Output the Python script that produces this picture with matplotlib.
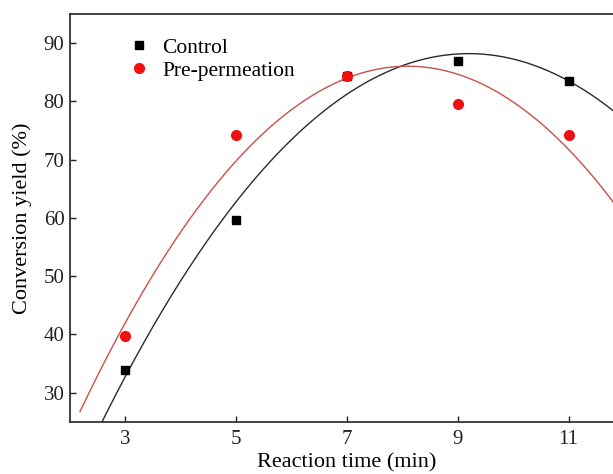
import numpy as np
import matplotlib
matplotlib.use('Agg')
import matplotlib.pyplot as plt

# data
time_min = [3, 5, 7, 9, 11]
control = [33.8, 59.7, 84.4, 87.0, 83.55]
pre_perm = [39.7, 74.3, 84.4, 79.6, 74.2]
xticks = [3, 5, 7, 9, 11]
yticks = [30, 40, 50, 60, 70, 80, 90]

plt.rcParams['font.family'] = ['Liberation Serif', 'DejaVu Serif']
plt.rcParams['font.size'] = 15

fig = plt.figure(figsize=(6.13, 4.74), dpi=100)
# axes runs past the right edge of the picture, like the cropped original
ax = fig.add_axes([70/613, (474-421.7)/474, 554/613, (421.7-14)/474])

# quadratic fits drawn through the points
xs = np.linspace(2.18, 12, 300)
fit_c = np.polyfit(time_min, control, 2)
fit_p = np.polyfit(time_min, pre_perm, 2)
ax.plot(xs, np.polyval(fit_c, xs), color='#2b2b2b', lw=1.0)
ax.plot(xs, np.polyval(fit_p, xs), color='#c8504a', lw=1.0)

ax.plot(time_min, control, 's', color='black', ms=5.8, label='Control', zorder=3)
ax.plot(time_min, pre_perm, 'o', color='#ee1111', ms=7, label='Pre-permeation', zorder=4)

ax.set_xlim(2, 12)
ax.set_ylim(25, 95)
ax.set_xticks(xticks)
ax.set_yticks(yticks)
ax.tick_params(direction='in', length=4, width=1, colors='#222222', labelsize=15)
ax.tick_params(axis='y', pad=4)
ax.tick_params(axis='x', pad=6)
for s in ax.spines.values():
    s.set_linewidth(1.3)
    s.set_color('#333333')

ax.set_xlabel('Reaction time (min)', fontsize=16, labelpad=3)
ax.set_ylabel('Conversion yield (%)', fontsize=16, labelpad=8)

ax.legend(loc='upper left', bbox_to_anchor=(0.07, 0.99), frameon=False,
          handlelength=1.0, handletextpad=0.6, labelspacing=0.15, fontsize=15.5)

fig.savefig('out.png', dpi=100)
